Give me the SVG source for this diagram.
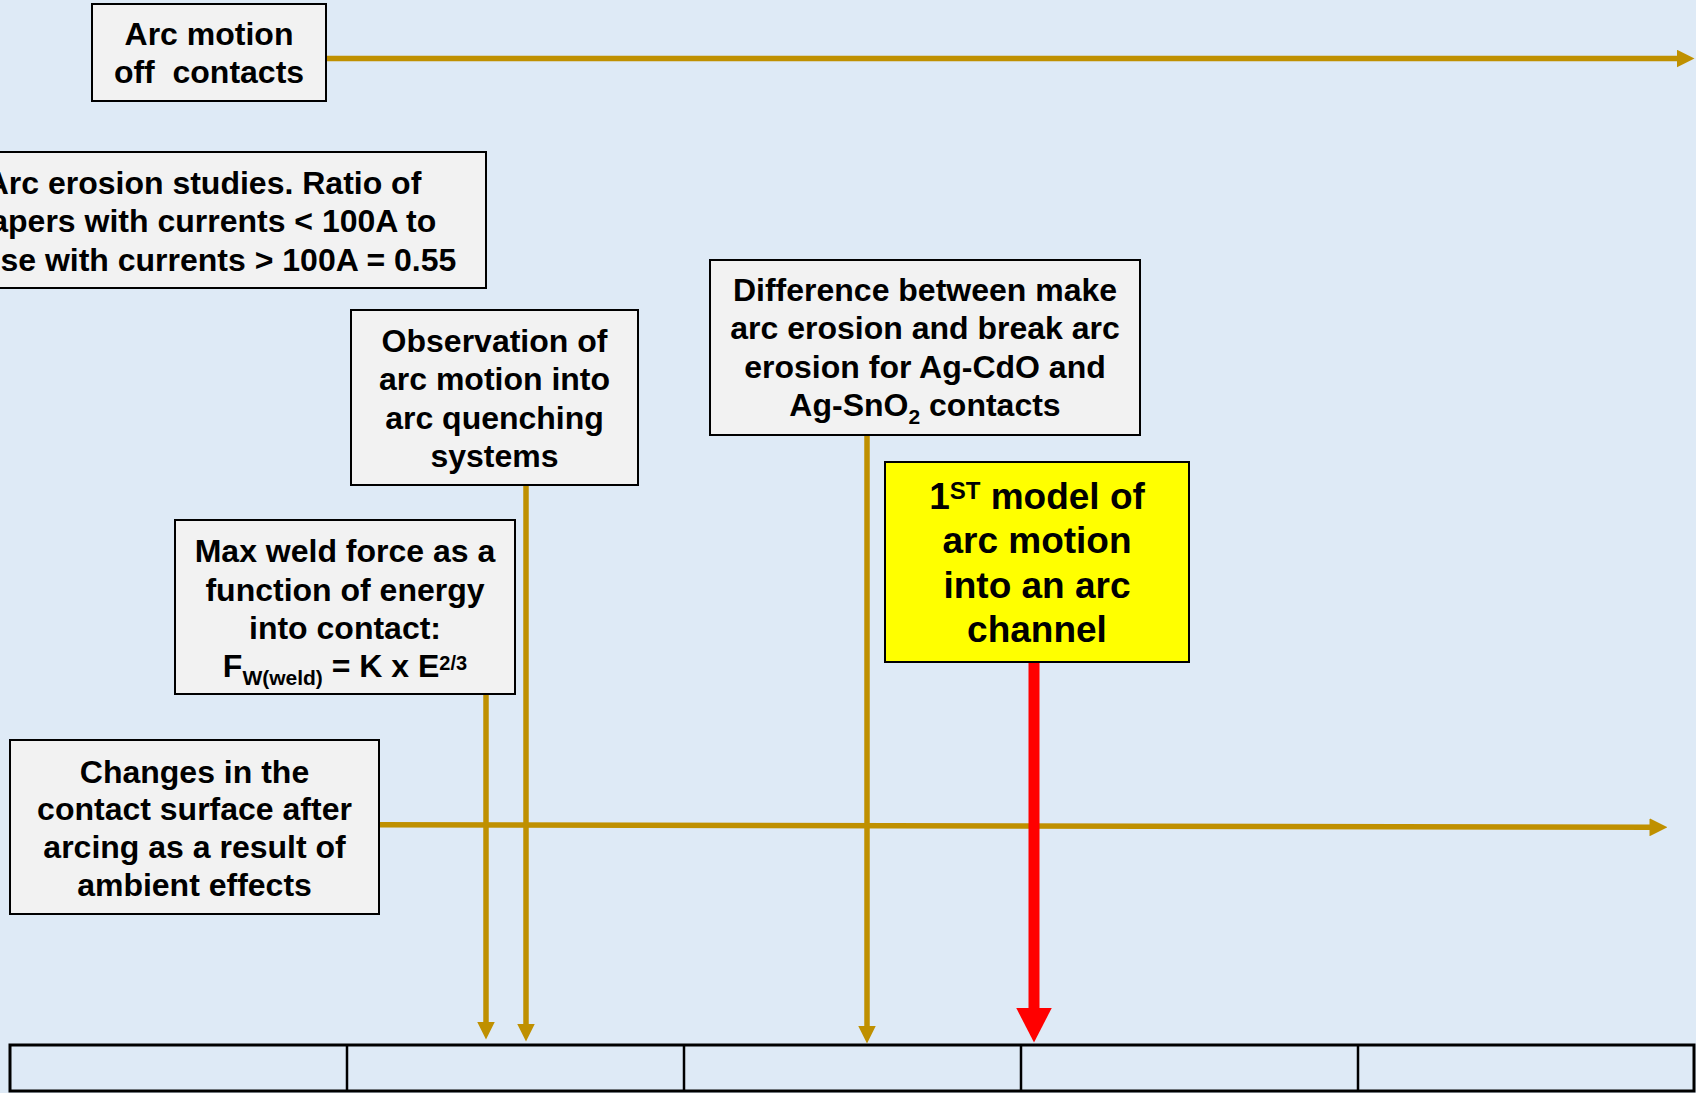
<svg xmlns="http://www.w3.org/2000/svg" width="1696" height="1093" viewBox="0 0 1696 1093">
  <style>
    .box { fill: #F2F2F2; stroke: #000; stroke-width: 2; }
    .hot { fill: #FFFF00; stroke: #000; stroke-width: 2; }
    .t { font-family: "Liberation Sans", Arial, sans-serif; font-weight: bold; font-size: 32px; text-anchor: middle; fill: #000; }
    .big { font-size: 37px; }
    .gold { fill: none; stroke: #BF9000; stroke-width: 5.5; }
    .red { fill: none; stroke: #FF0000; stroke-width: 11; }
    .grid { fill: none; stroke: #000; stroke-width: 2.5; }
  </style>
  <defs>
    <marker id="goldHead" markerUnits="userSpaceOnUse" viewBox="0 0 18 18" markerWidth="18" markerHeight="18" refX="0.5" refY="9" orient="auto">
      <path d="M0,0 L18,9 L0,18 Z" fill="#BF9000"/>
    </marker>
    <marker id="redHead" markerUnits="userSpaceOnUse" viewBox="0 0 35 36" markerWidth="35" markerHeight="36" refX="0.5" refY="18" orient="auto">
      <path d="M0,0 L35,18 L0,36 Z" fill="#FF0000"/>
    </marker>
  </defs>

  <!-- background -->
  <rect x="0" y="0" width="1696" height="1093" fill="#DEEAF6"/>

  <!-- timeline strip -->
  <g id="timeline">
    <rect class="grid" x="10" y="1045" width="1684" height="46" style="stroke-width:3"/>
    <line class="grid" x1="347" y1="1045" x2="347" y2="1091"/>
    <line class="grid" x1="684" y1="1045" x2="684" y2="1091"/>
    <line class="grid" x1="1021" y1="1045" x2="1021" y2="1091"/>
    <line class="grid" x1="1358" y1="1045" x2="1358" y2="1091"/>
  </g>

  <!-- connectors -->
  <g id="connectors">
    <path class="gold" d="M326,58.5 L1677,58.5" marker-end="url(#goldHead)"/>
    <path class="gold" d="M379,824.7 L1650,827.3" marker-end="url(#goldHead)"/>
    <path class="gold" d="M486,694 L486,1022" marker-end="url(#goldHead)"/>
    <path class="gold" d="M526,485 L526,1024" marker-end="url(#goldHead)"/>
    <path class="gold" d="M867,435 L867,1026" marker-end="url(#goldHead)"/>
    <path class="red" d="M1034,662 L1034,1008" marker-end="url(#redHead)"/>
  </g>

  <g id="arc-motion-off">
    <rect class="box" x="92" y="4" width="234" height="97"/>
    <text class="t" x="209" y="45">Arc motion</text>
    <text class="t" x="209" y="83">off&#160; contacts</text>
  </g>

  <g id="arc-erosion-ratio">
    <rect class="box" x="-79" y="152" width="565" height="136"/>
    <text class="t" x="203.5" y="194">Arc erosion studies. Ratio of</text>
    <text class="t" x="203.5" y="232">papers with currents &lt; 100A to</text>
    <text class="t" x="203.5" y="271">those with currents &gt; 100A = 0.55</text>
  </g>

  <g id="arc-quenching">
    <rect class="box" x="351" y="310" width="287" height="175"/>
    <text class="t" x="494.5" y="352">Observation of</text>
    <text class="t" x="494.5" y="390">arc motion into</text>
    <text class="t" x="494.5" y="429">arc quenching</text>
    <text class="t" x="494.5" y="467">systems</text>
  </g>

  <g id="weld-force">
    <rect class="box" x="175" y="520" width="340" height="174"/>
    <text class="t" x="345" y="562">Max weld force as a</text>
    <text class="t" x="345" y="601">function of energy</text>
    <text class="t" x="345" y="639">into contact:</text>
    <text class="t" x="345" y="677">F<tspan font-size="21" dy="8">W(weld)</tspan><tspan font-size="32" dy="-8"> = K x E</tspan><tspan font-size="20" dy="-7">2/3</tspan></text>
  </g>

  <g id="make-break-erosion">
    <rect class="box" x="710" y="260" width="430" height="175"/>
    <text class="t" x="925" y="301">Difference between make</text>
    <text class="t" x="925" y="339">arc erosion and break arc</text>
    <text class="t" x="925" y="378">erosion for Ag-CdO and</text>
    <text class="t" x="925" y="416">Ag-SnO<tspan font-size="21" dy="8">2</tspan><tspan font-size="32" dy="-8"> contacts</tspan></text>
  </g>

  <g id="arc-channel-model">
    <rect class="hot" x="885" y="462" width="304" height="200"/>
    <text class="t big" x="1037" y="509">1<tspan font-size="24" dy="-10">ST</tspan><tspan font-size="37" dy="10"> model of</tspan></text>
    <text class="t big" x="1037" y="553">arc motion</text>
    <text class="t big" x="1037" y="598">into an arc</text>
    <text class="t big" x="1037" y="642">channel</text>
  </g>

  <g id="surface-changes">
    <rect class="box" x="10" y="740" width="369" height="174"/>
    <text class="t" x="194.5" y="783">Changes in the</text>
    <text class="t" x="194.5" y="820">contact surface after</text>
    <text class="t" x="194.5" y="858">arcing as a result of</text>
    <text class="t" x="194.5" y="896">ambient effects</text>
  </g>
</svg>
